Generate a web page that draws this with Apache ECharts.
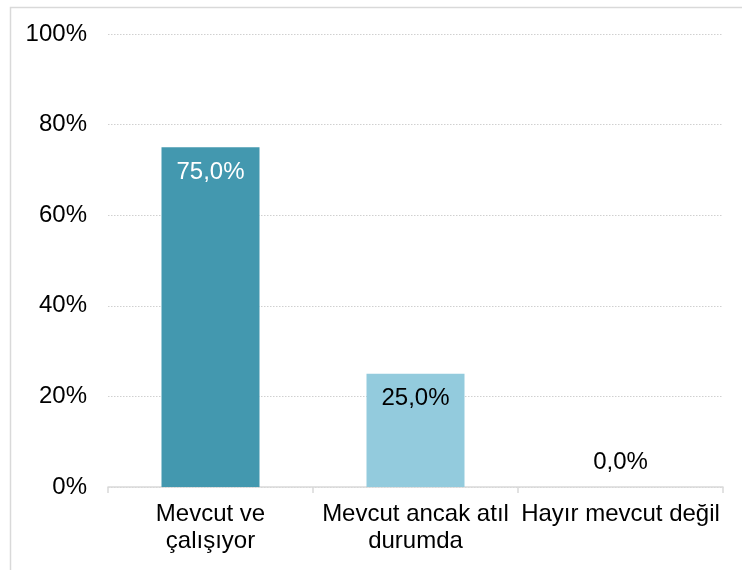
<!DOCTYPE html>
<html>
<head>
<meta charset="utf-8">
<script src="https://cdn.jsdelivr.net/npm/echarts@6/dist/echarts.min.js"></script>
<style>html,body{margin:0;padding:0;background:#fff}#c{width:742px;height:570px}</style>
</head>
<body>
<div id="c"></div>
<script>
const categories = ["Mevcut ve\nçalışıyor", "Mevcut ancak atıl\ndurumda", "Hayır mevcut değil"];
const values = [75.0, 25.0, 0.0];
const barColors = ["#4398af", "#93cbdd", "#4398af"];
const labelColors = ["#ffffff", "#000000", "#000000"];
const labelPositions = ["insideTop", "insideTop", "top"];

const font = "Liberation Sans, Arial, sans-serif";
const chart = echarts.init(document.getElementById('c'), null, {renderer: 'canvas'});
chart.setOption({
  animation: false,
  backgroundColor: '#ffffff',
  graphic: [{
    type: 'rect', left: 8, top: 5, silent: true,
    shape: {x: 0, y: 0, width: 800, height: 700},
    style: {fill: 'none', stroke: '#d9d9d9', lineWidth: 1.5}
  }],
  grid: {left: 108, right: 19, top: 34, bottom: 83, containLabel: false},
  xAxis: {
    type: 'category',
    data: categories,
    axisLine: {lineStyle: {color: '#d9d9d9', width: 1.5}},
    axisTick: {show: true, length: 6, lineStyle: {color: '#d9d9d9', width: 1.5}},
    axisLabel: {color: '#000', fontFamily: font, fontSize: 24, lineHeight: 27, margin: 14, interval: 0}
  },
  yAxis: {
    type: 'value', min: 0, max: 100, interval: 20,
    axisLine: {show: false}, axisTick: {show: false},
    axisLabel: {color: '#000', fontFamily: font, fontSize: 24, margin: 21, formatter: v => v + '%'},
    splitLine: {lineStyle: {color: '#d0d0d0', type: [1.5, 1.5], width: 1}}
  },
  series: [{
    type: 'bar',
    barWidth: 98,
    data: values.map((v, i) => ({
      value: v,
      itemStyle: {color: barColors[i]},
      label: {
        show: true, position: labelPositions[i], distance: 13,
        color: labelColors[i], fontFamily: font, fontSize: 24,
        formatter: p => p.value.toFixed(1).replace('.', ',') + '%'
      }
    }))
  }]
});
</script>
</body>
</html>
